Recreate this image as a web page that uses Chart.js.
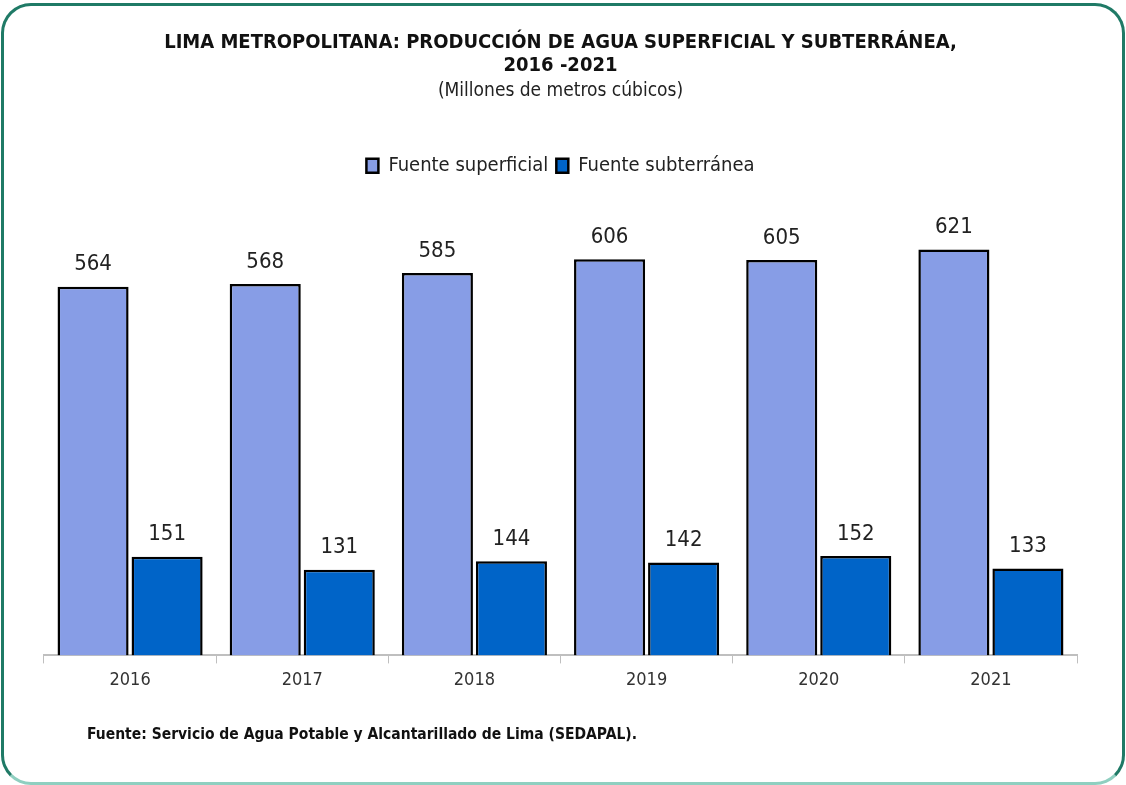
<!DOCTYPE html>
<html>
<head>
<meta charset="utf-8">
<script src="https://cdn.jsdelivr.net/npm/chart.js@4.4.1/dist/chart.umd.min.js"></script>
<style>
  body { margin: 0; background: #fff; }
  #marco {
    position: absolute; left: 1px; top: 3px; width: 1118px; height: 776px;
    border: 3px solid #1f7a66; border-bottom-color: #8fcfc0; border-radius: 30px;
  }
  #wrap { position: absolute; left: 0; top: 0; width: 1126px; height: 785px; }
  #fuente {
    position: absolute; left: 87px; top: 725px;
    font: bold 15.5px "Liberation Sans Narrow", "DejaVu Sans Condensed", sans-serif;
    color: #111;
  }
</style>
</head>
<body>
<div id="marco"></div>
<div id="wrap"><canvas id="graphique" width="1126" height="785"></canvas></div>
<div id="fuente">Fuente: Servicio de Agua Potable y Alcantarillado de Lima (SEDAPAL).</div>
<script>
var FONT = '"Liberation Sans Narrow", "DejaVu Sans Condensed", sans-serif';

// datos
var anios = ['2016', '2017', '2018', '2019', '2020', '2021'];
var superficial = [564, 568, 585, 606, 605, 621];
var subterranea = [151, 131, 144, 142, 152, 133];

// etiquetas encima de las barras
var etiquetas = {
  id: 'etiquetas',
  afterDatasetsDraw: function(chart) {
    var ctx = chart.ctx;
    ctx.save();
    ctx.font = '22px ' + FONT;
    ctx.fillStyle = '#222';
    ctx.textAlign = 'center';
    ctx.textBaseline = 'bottom';
    chart.data.datasets.forEach(function(ds, i) {
      chart.getDatasetMeta(i).data.forEach(function(bar, j) {
        ctx.fillText(ds.data[j], bar.x, bar.y - 11);
      });
    });
    ctx.restore();
  }
};

// mas espacio debajo de la leyenda
var espacioLeyenda = {
  id: 'espacioLeyenda',
  beforeInit: function(chart) {
    var fitOrig = chart.legend.fit;
    chart.legend.fit = function() {
      fitOrig.bind(chart.legend)();
      this.height += 12;
    };
  }
};

var ctx = document.getElementById('graphique');
var myChart = new Chart(ctx, {
  type: 'bar',
  data: {
    labels: anios,
    datasets: [{
      label: 'Fuente superficial',
      data: superficial,
      backgroundColor: '#879de6',
      borderColor: '#000',
      borderWidth: 2.5,
      borderSkipped: 'bottom'
    }, {
      label: 'Fuente subterránea',
      data: subterranea,
      backgroundColor: '#0064c8',
      borderColor: '#000',
      borderWidth: 2.5,
      borderSkipped: 'bottom'
    }]
  },
  options: {
    responsive: false,
    animation: false,
    categoryPercentage: 0.86,
    barPercentage: 0.96,
    layout: { padding: { left: 44, right: 49, top: 22, bottom: 88 } },
    plugins: {
      title: {
        display: true,
        text: ['LIMA METROPOLITANA: PRODUCCIÓN DE AGUA SUPERFICIAL Y SUBTERRÁNEA,', '2016 -2021'],
        font: { family: FONT, size: 20, weight: 'bold', lineHeight: 1.15 },
        color: '#111',
        padding: { top: 9, bottom: 3 }
      },
      subtitle: {
        display: true,
        text: '(Millones de metros cúbicos)',
        font: { family: FONT, size: 19 },
        color: '#222',
        padding: { bottom: 45 }
      },
      legend: {
        labels: {
          font: { family: FONT, size: 20 },
          color: '#222',
          boxWidth: 12,
          boxHeight: 14,
          padding: 8
        }
      },
      tooltip: { enabled: false }
    },
    scales: {
      x: {
        grid: { drawOnChartArea: false, color: '#bfbfbf', tickLength: 8 },
        border: { color: '#bfbfbf', width: 2 },
        ticks: { font: { family: FONT, size: 18 }, color: '#333', padding: 6 }
      },
      y: {
        display: false,
        min: 0,
        max: 700
      }
    }
  },
  plugins: [etiquetas, espacioLeyenda]
});
</script>
</body>
</html>
